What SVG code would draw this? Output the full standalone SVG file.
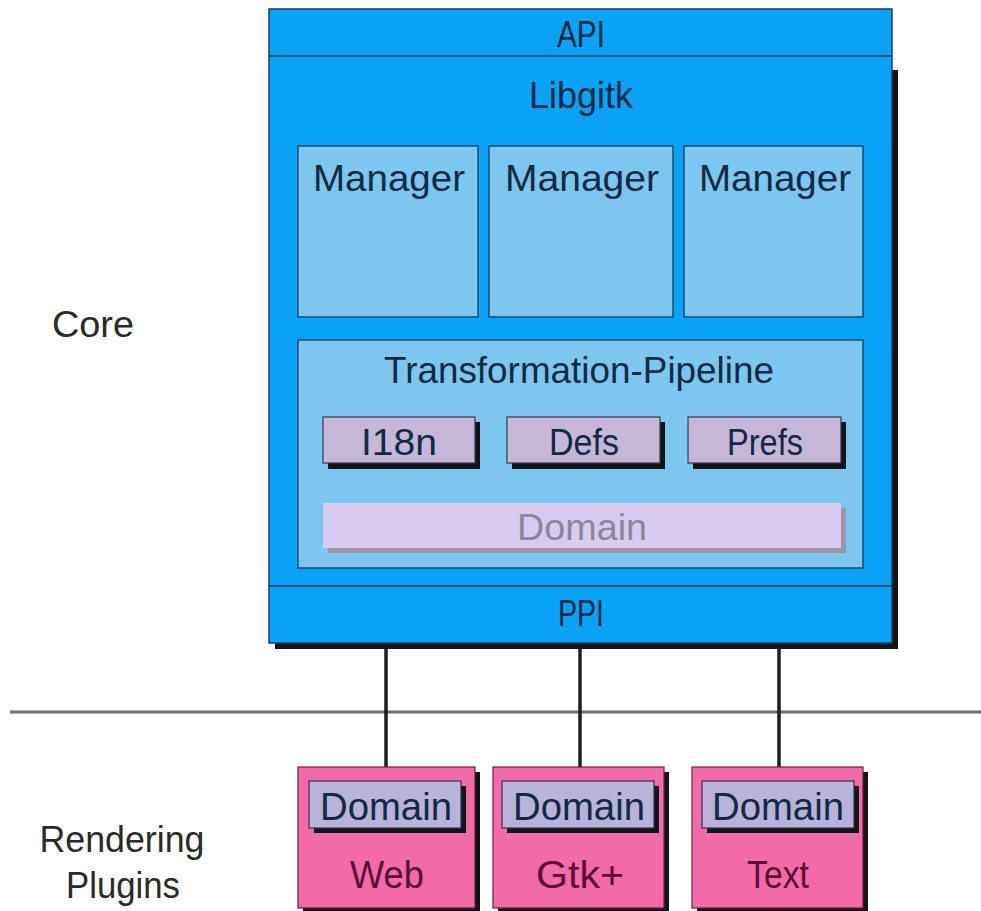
<svg xmlns="http://www.w3.org/2000/svg" width="981" height="911" viewBox="0 0 981 911">
  <style>
    text { font-family: "Liberation Sans", Arial, sans-serif; text-anchor: middle; }
    .core { fill: #0aa2f7; stroke: #1a3a5c; stroke-width: 1.5; }
    .light { fill: #7cc6ef; stroke: #1e4a6e; stroke-width: 1.5; }
    .chip { fill: #c6b6d8; stroke: #3a3a4a; stroke-width: 1.2; }
    .shadow { fill: #111418; }
    .navy { fill: #132a45; }
    .plug { fill: #f26aa8; stroke: #6a2040; stroke-width: 1.2; }
    .pdom { fill: #b9b2d9; stroke: #3a3050; stroke-width: 1.2; }
    .maroon { fill: #5c0d33; }
    .side { fill: #2a2a2a; }
    .wire { stroke: #1e1e1e; stroke-width: 3.5; fill: none; }
  </style>

  <!-- connectors: PPI down to the plugins, plus the layer separator -->
  <g id="connectors">
    <line x1="10" y1="712" x2="981" y2="712" stroke="#6e6e6e" stroke-width="3"/>
    <line class="wire" x1="386" y1="645" x2="386" y2="768"/>
    <line class="wire" x1="580" y1="645" x2="580" y2="768"/>
    <line class="wire" x1="779" y1="645" x2="779" y2="768"/>
  </g>

  <!-- side labels -->
  <g id="labels">
    <text x="93" y="337" font-size="36" class="side" textLength="82" lengthAdjust="spacingAndGlyphs">Core</text>
    <text x="122" y="852" font-size="36" class="side" textLength="165" lengthAdjust="spacingAndGlyphs">Rendering</text>
    <text x="123" y="898" font-size="36" class="side" textLength="114" lengthAdjust="spacingAndGlyphs">Plugins</text>
  </g>

  <!-- core block -->
  <g id="core">
    <rect class="shadow" x="275" y="70" width="623" height="579"/>
    <rect class="core" x="269" y="9" width="623" height="634"/>
    <line x1="269" y1="56" x2="892" y2="56" stroke="#1a3a5c" stroke-width="1.5"/>
    <line x1="269" y1="586" x2="892" y2="586" stroke="#1a3a5c" stroke-width="1.5"/>
    <text x="581" y="47" font-size="37" class="navy" textLength="48" lengthAdjust="spacingAndGlyphs">API</text>
    <text x="581" y="108" font-size="37" class="navy" textLength="104" lengthAdjust="spacingAndGlyphs">Libgitk</text>
    <text x="581" y="626" font-size="37" class="navy" textLength="46" lengthAdjust="spacingAndGlyphs">PPI</text>
  </g>

  <g id="manager1">
    <rect class="light" x="298" y="146" width="180" height="171"/>
    <text x="389" y="191" font-size="37" class="navy" textLength="152" lengthAdjust="spacingAndGlyphs">Manager</text>
  </g>
  <g id="manager2">
    <rect class="light" x="489" y="146" width="184" height="171"/>
    <text x="582" y="191" font-size="37" class="navy" textLength="154" lengthAdjust="spacingAndGlyphs">Manager</text>
  </g>
  <g id="manager3">
    <rect class="light" x="684" y="146" width="179" height="171"/>
    <text x="775" y="191" font-size="37" class="navy" textLength="152" lengthAdjust="spacingAndGlyphs">Manager</text>
  </g>

  <g id="pipeline">
    <rect class="light" x="298" y="340" width="565" height="228"/>
    <text x="579" y="383" font-size="37" class="navy" textLength="390" lengthAdjust="spacingAndGlyphs">Transformation-Pipeline</text>
  </g>

  <g id="i18n">
    <rect class="shadow" x="328" y="422" width="152" height="47"/>
    <rect class="chip" x="323" y="417" width="152" height="46"/>
    <text x="399" y="455" font-size="37" class="navy" textLength="76" lengthAdjust="spacingAndGlyphs">I18n</text>
  </g>
  <g id="defs">
    <rect class="shadow" x="512" y="422" width="153" height="47"/>
    <rect class="chip" x="507" y="417" width="153" height="46"/>
    <text x="584" y="455" font-size="37" class="navy" textLength="70" lengthAdjust="spacingAndGlyphs">Defs</text>
  </g>
  <g id="prefs">
    <rect class="shadow" x="693" y="422" width="153" height="47"/>
    <rect class="chip" x="688" y="417" width="153" height="46"/>
    <text x="765" y="455" font-size="37" class="navy" textLength="76" lengthAdjust="spacingAndGlyphs">Prefs</text>
  </g>

  <g id="domain">
    <rect x="328" y="508" width="518" height="45" fill="#9a98a8"/>
    <rect x="323" y="503" width="518" height="45" fill="#d9caf1"/>
    <text x="582" y="540" font-size="37" fill="#8a8898" textLength="130" lengthAdjust="spacingAndGlyphs">Domain</text>
  </g>

  <!-- rendering plugins -->
  <g id="web">
    <rect class="shadow" x="303" y="772" width="177" height="141"/>
    <rect class="plug" x="298" y="767" width="177" height="141"/>
    <rect class="shadow" x="314" y="786" width="152" height="47"/>
    <rect class="pdom" x="309" y="781" width="152" height="47"/>
    <text x="386" y="820" font-size="38" class="navy" textLength="132" lengthAdjust="spacingAndGlyphs">Domain</text>
    <text x="387" y="888" font-size="38" class="maroon" textLength="74" lengthAdjust="spacingAndGlyphs">Web</text>
  </g>
  <g id="gtk">
    <rect class="shadow" x="498" y="772" width="171" height="141"/>
    <rect class="plug" x="493" y="767" width="171" height="141"/>
    <rect class="shadow" x="507" y="786" width="152" height="47"/>
    <rect class="pdom" x="502" y="781" width="152" height="47"/>
    <text x="579" y="820" font-size="38" class="navy" textLength="132" lengthAdjust="spacingAndGlyphs">Domain</text>
    <text x="580" y="888" font-size="38" class="maroon" textLength="88" lengthAdjust="spacingAndGlyphs">Gtk+</text>
  </g>
  <g id="text">
    <rect class="shadow" x="697" y="772" width="171" height="141"/>
    <rect class="plug" x="692" y="767" width="171" height="141"/>
    <rect class="shadow" x="707" y="786" width="152" height="47"/>
    <rect class="pdom" x="702" y="781" width="152" height="47"/>
    <text x="778" y="820" font-size="38" class="navy" textLength="132" lengthAdjust="spacingAndGlyphs">Domain</text>
    <text x="778" y="888" font-size="38" class="maroon" textLength="62" lengthAdjust="spacingAndGlyphs">Text</text>
  </g>
</svg>
